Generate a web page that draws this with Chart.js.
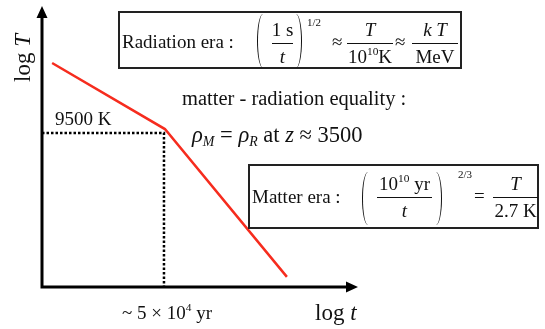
<!DOCTYPE html>
<html>
<head>
<meta charset="utf-8">
<script src="https://cdn.jsdelivr.net/npm/chart.js@4.4.1/dist/chart.umd.min.js"></script>
<style>
  body { margin: 0; background: #fff; }
  #wrap { position: relative; width: 545px; height: 329px; font-family: "Liberation Serif", "Times New Roman", serif; color: #111; }
  #wrap canvas { position: absolute; left: 0; top: 0; }
  .t { position: absolute; white-space: nowrap; line-height: 1; }
  .box { position: absolute; border: 2px solid #222; box-sizing: border-box; }
  .lp, .rp { position: absolute; box-sizing: border-box; border-radius: 50%; }
  .lp { border-left: 1.6px solid #111; }
  .rp { border-right: 1.6px solid #111; }
  .bar { position: absolute; height: 0; border-top: 1.3px solid #111; }
  .sup { font-size: 0.6em; position: relative; top: -0.7em; }
  .sub { font-size: 0.62em; position: relative; top: 0.25em; font-style: italic; }
</style>
</head>
<body>
<div id="wrap">
  <canvas id="chart" width="545" height="329"></canvas>
</div>
<script>
// log t / log T in arbitrary units (axis spans 0..10 on both)
const logTime = [0.32, 3.89, 7.75];
const logTemp = [7.97, 5.62, 0.36];
// matter-radiation equality marker
const eqLogTime = [0, 3.86, 3.86];
const eqLogTemp = [5.48, 5.48, 0];

const axisRange = [0, 10];

const wrap = document.getElementById('wrap');

function put(html, x, base, size, anchor) {
    const d = document.createElement('div');
    d.className = 't';
    d.innerHTML = html;
    d.style.fontSize = size + 'px';
    d.style.left = x + 'px';
    d.style.top = (base - 0.84 * size) + 'px';
    if (anchor === 'c') d.style.transform = 'translateX(-50%)';
    wrap.appendChild(d);
    return d;
}
function el(cls, x, y, w, h) {
    const d = document.createElement('div');
    d.className = cls;
    d.style.left = x + 'px';
    d.style.top = y + 'px';
    d.style.width = w + 'px';
    if (h !== undefined) d.style.height = h + 'px';
    wrap.appendChild(d);
}

// axes with arrow heads, drawn on top of the lines
const arrowAxes = {
    id: 'arrowAxes',
    afterDatasetsDraw(chart) {
        const { ctx, chartArea: a } = chart;
        ctx.save();
        ctx.strokeStyle = '#000';
        ctx.fillStyle = '#000';
        ctx.lineWidth = 3;
        ctx.beginPath();
        ctx.moveTo(a.left, a.bottom + 1.5);
        ctx.lineTo(a.left, a.top + 8);
        ctx.moveTo(a.left - 1.5, a.bottom);
        ctx.lineTo(a.right - 8, a.bottom);
        ctx.stroke();
        ctx.beginPath();
        ctx.moveTo(a.left, a.top);
        ctx.lineTo(a.left - 5.5, a.top + 12);
        ctx.lineTo(a.left + 5.5, a.top + 12);
        ctx.closePath();
        ctx.moveTo(a.right, a.bottom);
        ctx.lineTo(a.right - 12, a.bottom - 5.5);
        ctx.lineTo(a.right - 12, a.bottom + 5.5);
        ctx.closePath();
        ctx.fill();
        ctx.restore();
    }
};

new Chart(document.getElementById('chart'), {
    type: 'scatter',
    data: {
        datasets: [{
            label: 'equality',
            data: eqLogTime.map((x, i) => ({ x, y: eqLogTemp[i] })),
            showLine: true,
            borderColor: '#000',
            borderWidth: 2.5,
            borderDash: [2.5, 2],
            pointRadius: 0
        },
        {
            label: 'T(t)',
            data: logTime.map((x, i) => ({ x, y: logTemp[i] })),
            showLine: true,
            borderColor: 'rgb(246, 44, 30)',
            borderWidth: 2.5,
            pointRadius: 0
        }]
    },
    options: {
        responsive: false,
        animation: false,
        devicePixelRatio: 1,
        layout: { padding: { left: 42, top: 6, right: 187, bottom: 42 } },
        plugins: { legend: { display: false }, tooltip: { enabled: false } },
        scales: {
            x: { type: 'linear', display: false, min: axisRange[0], max: axisRange[1] },
            y: { type: 'linear', display: false, min: axisRange[0], max: axisRange[1] }
        }
    },
    plugins: [arrowAxes]
});

// axis titles and marker labels
const lt = put('log <i>T</i>', 0, 0, 23);
lt.style.left = '22px';
lt.style.top = '58px';
lt.style.transform = 'translate(-50%, -50%) rotate(-90deg)';
put('log <i>t</i>', 315, 320, 23);
put('9500 K', 55, 125, 19);
put('~ 5 × 10<span class="sup">4</span> yr', 122, 319, 19);

// radiation era box
el('box', 118, 11, 344, 58);
put('Radiation era :', 122, 48, 19);
el('lp', 257, 14, 12, 54);
put('1 s', 282.5, 36, 19, 'c');
el('bar', 272, 43, 21);
put('<i>t</i>', 282.5, 63, 19, 'c');
el('rp', 290, 14, 12, 54);
put('1/2', 307, 26, 11);
put('≈', 332, 48, 19);
put('<i>T</i>', 370, 36, 19, 'c');
el('bar', 347, 43, 46);
put('10<span class="sup">10</span>K', 370, 63, 19, 'c');
put('≈', 395, 48, 19);
put('<i>k T</i>', 435, 36, 19, 'c');
el('bar', 412, 43, 46);
put('MeV', 435, 63, 19, 'c');

// equality text
put('matter - radiation equality :', 182, 105, 20.5);
put('<i>ρ</i><span class="sub">M</span> = <i>ρ</i><span class="sub">R</span> at <i>z</i> ≈ 3500', 192, 143, 22.5);

// matter era box
el('box', 248, 164, 291, 65);
put('Matter era :', 252, 203, 19);
el('lp', 362, 172, 12, 53);
put('10<span class="sup">10</span> yr', 404.5, 190, 19, 'c');
el('bar', 377, 197, 55);
put('<i>t</i>', 404.5, 217, 19, 'c');
el('rp', 430, 172, 12, 53);
put('2/3', 458, 178, 11);
put('=', 474, 202, 19);
put('<i>T</i>', 515.5, 190, 19, 'c');
el('bar', 493, 197, 45);
put('2.7 K', 515.5, 217, 19, 'c');
</script>
</body>
</html>
